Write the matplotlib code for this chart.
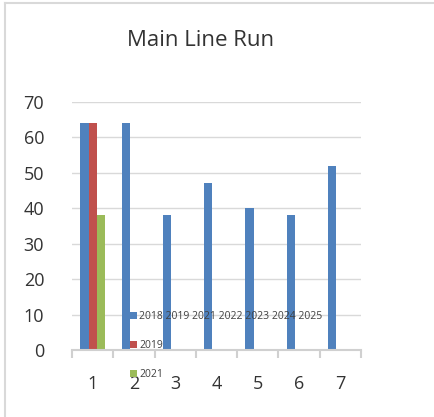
import matplotlib
matplotlib.use("Agg")
import matplotlib.pyplot as plt
from matplotlib.lines import Line2D
import numpy as np

categories = ["1", "2", "3", "4", "5", "6", "7"]
series_labels = ["2018 2019 2021 2022 2023 2024 2025", "2019", "2021"]
blue_vals = [64, 64, 38, 47, 40, 38, 52]
red_vals = [64, np.nan, np.nan, np.nan, np.nan, np.nan, np.nan]
green_vals = [38, np.nan, np.nan, np.nan, np.nan, np.nan, np.nan]
colors = ["#4F81BD", "#C0504D", "#9BBB59"]
yticks = [0, 10, 20, 30, 40, 50, 60, 70]

plt.rcParams['font.family'] = ['Open Sans', 'DejaVu Sans']

W, H = 434, 417
fig = plt.figure(figsize=(W / 100, H / 100), dpi=100)
ax = fig.add_axes([72 / W, (H - 350) / H, (361 - 72) / W, 248 / H])

x = np.arange(1, len(categories) + 1)
w = 0.2
handles = []
for i, (vals, c) in enumerate(zip([blue_vals, red_vals, green_vals], colors)):
    b = ax.bar(x + (i - 1) * w, vals, width=w, color=c, zorder=3, label=series_labels[i])
    handles.append(b)

ax.set_xlim(0.5, 7.5)
ax.set_ylim(0, 70)
ax.set_yticks(yticks)
ax.set_yticklabels([str(v) for v in yticks])
ax.set_xticks(x)
ax.set_xticklabels(categories)
ax.set_xticks(np.arange(0.5, 8.0, 1.0), minor=True)
ax.tick_params(axis='x', which='major', length=0, pad=18, labelsize=13, labelcolor='#333333')
ax.tick_params(axis='x', which='minor', length=6, width=1.5, color='#D0D0D0', direction='out')
ax.tick_params(axis='y', length=0, pad=20, labelsize=13, labelcolor='#333333')
for s in ['left', 'right', 'top']:
    ax.spines[s].set_visible(False)
ax.spines['bottom'].set_color('#D0D0D0')
ax.spines['bottom'].set_linewidth(1.5)
ax.spines['bottom'].set_zorder(4)
ax.yaxis.grid(True, color='#D9D9D9', linewidth=1.0, zorder=0)
ax.set_axisbelow(True)

fig.text(201 / W, 1 - 40 / H, "Main Line Run", ha='center', va='center', fontsize=16, color='#333333')

leg = fig.legend(handles=handles, labels=series_labels, loc='upper left',
                 bbox_to_anchor=(130 / W, 1 - 311 / H), frameon=False,
                 fontsize=7.5, labelspacing=1.75, handlelength=0.7, handleheight=0.7,
                 handletextpad=0.2, borderpad=0, borderaxespad=0, labelcolor='#404040')
leg.set_zorder(10)

# chart-area border (left and top edges visible)
fig.add_artist(Line2D([5 / W, 5 / W], [0, 1 - 3 / H], transform=fig.transFigure,
                      color='#D9D9D9', linewidth=1.5))
fig.add_artist(Line2D([5 / W, 1], [1 - 3 / H, 1 - 3 / H], transform=fig.transFigure,
                      color='#D9D9D9', linewidth=1.5))

fig.savefig("out.png", dpi=100)
